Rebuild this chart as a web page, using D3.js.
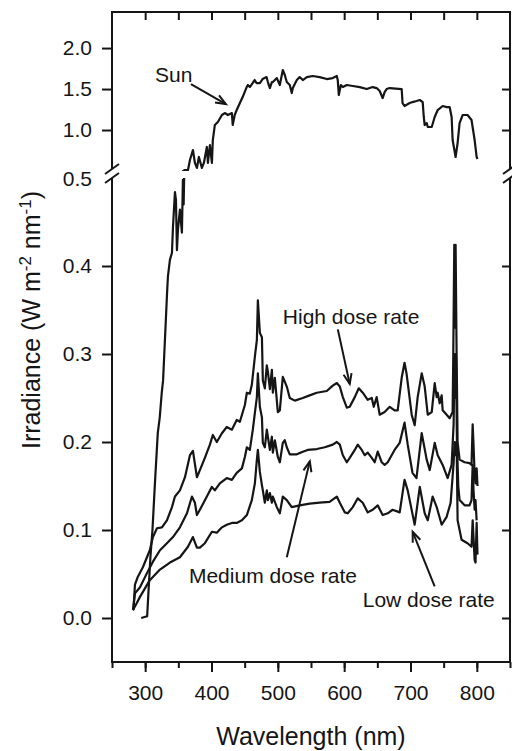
<!DOCTYPE html>
<html><head><meta charset="utf-8">
<script src="https://cdn.jsdelivr.net/npm/d3@7"></script>
<style>
body{margin:0;background:#fff}
text{font-family:"Liberation Sans",Arial,Helvetica,sans-serif;fill:#151515}
</style>
</head><body>
<svg id="chart" width="512" height="751"></svg>
<script>
// ---------------- data ----------------
const wavelengthMinorTicks = [250,300,350,400,450,500,550,600,650,700,750,800,850];
const wavelengthTopTicks = [300,350,400,450,500,550,600,650,700,750,800];
const wavelengthLabels = [300,400,500,600,700,800];
const lowerTicks = [0.0,0.1,0.2,0.3,0.4];
const breakValue = 0.5;
const upperTicks = [1.0,1.5,2.0];

// [wavelength nm, irradiance W m-2 nm-1]
const sun = [[294,0.0],[303,0.002],[305,0.03],[308,0.07],[311,0.1],[315,0.157],[319,0.21],[322,0.228],[325,0.256],[327,0.27],[333,0.369],[334.3,0.388],[337.3,0.407],[340.4,0.415],[341.9,0.444],[344.9,0.484],[346.4,0.475],[347.9,0.418],[349.4,0.441],[352.4,0.464],[355.4,0.438],[356.9,0.498],[358,0.47],[359,0.51],[364.5,0.51],[367.5,0.634],[372,0.756],[375,0.598],[378,0.537],[381,0.671],[385.5,0.537],[388.5,0.598],[393,0.793],[394.6,0.598],[397.6,0.817],[400.6,0.598],[402,0.878],[405,1.061],[409.6,1.098],[415.7,1.183],[420,1.207],[424.7,1.183],[430.7,1.207],[432,1.061],[435,1.183],[438,1.244],[442.8,1.329],[447,1.402],[453,1.524],[454.8,1.549],[457.8,1.524],[462,1.573],[465,1.61],[468,1.573],[473,1.573],[477,1.622],[483,1.646],[485,1.585],[488,1.512],[491,1.585],[492.5,1.585],[498.5,1.634],[503,1.549],[506,1.671],[507.5,1.732],[510.5,1.671],[513.5,1.585],[518,1.549],[521,1.451],[522.6,1.512],[528.6,1.61],[533,1.646],[537.6,1.61],[543.7,1.646],[552.7,1.659],[563,1.646],[573.8,1.622],[582.8,1.634],[588.9,1.659],[590.3,1.61],[591.9,1.427],[595,1.549],[598,1.524],[604,1.549],[613,1.537],[623.5,1.524],[634,1.5],[643,1.524],[649,1.512],[653.6,1.476],[658,1.39],[661,1.463],[664,1.5],[668.7,1.512],[686.7,1.5],[688,1.329],[691,1.293],[698.8,1.329],[703,1.341],[709,1.354],[714,1.366],[718.4,1.341],[720,1.159],[721.4,1.061],[724.4,1.085],[726,1.037],[732,1.037],[736.5,1.159],[741,1.244],[748.5,1.293],[754.5,1.28],[759,1.28],[762,1.159],[763.5,0.878],[768,0.671],[771,0.841],[774,1.085],[778.6,1.183],[786,1.183],[792,1.122],[796.7,0.878],[799.7,0.671],[801,0.646]];

const highDose = [[281.6,0.009],[282.5,0.01],[284.6,0.038],[289,0.047],[296.7,0.058],[307,0.077],[311.7,0.092],[317.8,0.102],[325.3,0.103],[332.8,0.111],[340.4,0.126],[344.9,0.138],[352.4,0.145],[360,0.16],[367.5,0.185],[372,0.19],[378,0.16],[382.5,0.168],[390,0.182],[397.6,0.197],[402,0.208],[408,0.2],[415.7,0.21],[423,0.217],[430.7,0.214],[438,0.225],[442.8,0.223],[450.3,0.242],[453.3,0.256],[457.8,0.255],[460.8,0.265],[465.4,0.297],[468.4,0.316],[469.9,0.361],[472.9,0.324],[476,0.319],[477.4,0.27],[480.4,0.261],[483.4,0.287],[485,0.28],[488,0.26],[491,0.282],[492.5,0.256],[495.5,0.273],[500,0.234],[503,0.236],[507.5,0.274],[513.5,0.263],[518,0.25],[525.6,0.247],[537.6,0.25],[548,0.253],[558.7,0.256],[573.8,0.258],[582.8,0.264],[588.9,0.267],[593.4,0.263],[598,0.251],[604,0.239],[608.4,0.24],[616,0.251],[622,0.261],[628,0.256],[635.5,0.248],[641.6,0.25],[644.6,0.24],[649,0.251],[653.6,0.231],[661,0.234],[668.7,0.24],[676,0.236],[680.7,0.236],[686.7,0.273],[691,0.29],[694,0.278],[701.8,0.231],[706.3,0.219],[710.8,0.251],[716.9,0.278],[721.4,0.263],[726,0.231],[732,0.234],[736.5,0.267],[739.5,0.251],[741,0.256],[744,0.244],[747,0.253],[748.5,0.236],[754.5,0.231],[759,0.227],[763.5,0.234],[764.5,0.3],[766,0.424],[767,0.33],[768,0.424],[769.5,0.3],[771,0.2],[774,0.18],[781.6,0.177],[789,0.176],[792,0.174],[793.7,0.22],[795,0.197],[796.7,0.163],[798,0.153],[799.7,0.17],[801,0.15]];

const mediumDose = [[281.6,0.009],[284.6,0.028],[292.2,0.035],[302.7,0.051],[311.7,0.064],[322.3,0.077],[332.8,0.085],[341.9,0.092],[352.4,0.103],[363,0.119],[370.5,0.138],[375,0.131],[378,0.117],[382.5,0.123],[393,0.138],[400.6,0.149],[405,0.145],[412.6,0.153],[423,0.159],[430.7,0.157],[438,0.165],[445.8,0.17],[450.3,0.183],[453.3,0.194],[457.8,0.191],[462.3,0.214],[465.4,0.233],[468.4,0.251],[469.9,0.278],[472.9,0.24],[476,0.228],[477.4,0.199],[480.4,0.194],[483.4,0.214],[485,0.206],[488,0.191],[491,0.206],[492.5,0.188],[495.5,0.202],[500,0.183],[503,0.177],[507.5,0.199],[510.5,0.202],[513.5,0.194],[518,0.186],[528.6,0.186],[537.6,0.189],[545,0.191],[558.7,0.192],[570.8,0.194],[582.8,0.197],[588.9,0.2],[593.4,0.197],[598,0.185],[604,0.177],[608.4,0.182],[616,0.191],[620.5,0.197],[626.5,0.191],[631,0.185],[635.5,0.188],[641.6,0.182],[646,0.177],[650.6,0.189],[656.6,0.177],[661,0.174],[665.7,0.177],[676,0.191],[683.7,0.199],[691,0.222],[695.8,0.197],[703,0.165],[709,0.159],[716.9,0.21],[724.4,0.18],[729,0.168],[736.5,0.199],[741,0.185],[748.5,0.174],[756,0.159],[762,0.174],[765,0.22],[766.5,0.3],[767.5,0.25],[768.5,0.3],[770,0.2],[772,0.15],[774,0.134],[781.6,0.128],[789,0.128],[792,0.134],[793.7,0.174],[795,0.145],[796.7,0.123],[798,0.134],[799.7,0.111]];

const lowDose = [[281.6,0.009],[286,0.015],[292.2,0.024],[307,0.043],[322.3,0.055],[337.3,0.063],[352.4,0.069],[364.5,0.081],[372,0.092],[378,0.08],[382.5,0.08],[390,0.085],[400.6,0.098],[408,0.097],[415.7,0.103],[423,0.106],[430.7,0.108],[438,0.108],[445.8,0.111],[453.3,0.117],[460.8,0.134],[465.4,0.153],[468.4,0.18],[469.9,0.191],[472.9,0.166],[476,0.151],[477.4,0.145],[480.4,0.131],[483.4,0.145],[485,0.134],[488,0.142],[491,0.131],[492.5,0.138],[498.5,0.126],[503,0.119],[507.5,0.138],[513.5,0.134],[521,0.126],[533,0.128],[548,0.13],[563,0.131],[578,0.132],[588.9,0.138],[593.4,0.131],[601,0.12],[605.4,0.119],[613,0.126],[620.5,0.136],[628,0.131],[635.5,0.12],[643,0.123],[650.6,0.128],[658,0.117],[665.7,0.119],[673,0.123],[683.7,0.12],[691,0.157],[695.8,0.145],[706.3,0.106],[714,0.149],[721.4,0.119],[726,0.111],[733.4,0.138],[739.5,0.126],[747,0.106],[754.5,0.115],[760.5,0.131],[765,0.176],[766.5,0.2],[768,0.185],[769.5,0.2],[771,0.111],[777,0.089],[786,0.085],[792,0.081],[793.7,0.111],[796.7,0.066],[798,0.063],[799.7,0.108],[801,0.072]];

// annotations (data coordinates)
const annotations = [
  {text:"Sun", panel:"upper", tx:314.8, ty:1.585, from:[369,1.561], to:[421.7,1.317]},
  {text:"High dose rate", panel:"lower", tx:507.5, ty:0.334, from:[590.4,0.328], to:[608.4,0.266]},
  {text:"Medium dose rate", panel:"lower", tx:366, ty:0.040, from:[513.5,0.069], to:[548.2,0.178]},
  {text:"Low dose rate", panel:"lower", tx:628, ty:0.0125, from:[736.4,0.036], to:[703.3,0.098]}
];

// ---------------- layout ----------------
const L = 112, R = 510, T = 12, B = 662;
const svg = d3.select("#chart");
const x = d3.scaleLinear([250, 850], [L, R]);
const yLow = d3.scaleLinear([-0.05, 0.5], [B, 178]);
const yUp = d3.scaleLinear([0.5, 2.44], [171, T]);
const ink = "#151515";
const fmt = d3.format(".1f");

const defs = svg.append("defs");
defs.append("clipPath").attr("id","clipLow").append("rect")
  .attr("x", L).attr("y", yLow(0.5)).attr("width", R-L).attr("height", B - yLow(0.5));
defs.append("clipPath").attr("id","clipUp").append("rect")
  .attr("x", L).attr("y", T).attr("width", R-L).attr("height", yUp(0.5) - T);

function styleAxis(g){
  g.select(".domain").remove();
  g.selectAll("line").attr("stroke", ink).attr("stroke-width", 2);
  g.selectAll("text").attr("font-size", 21).attr("fill", ink)
    .attr("font-family", '"Liberation Sans",Arial,Helvetica,sans-serif');
}

// bottom axis: minor and major ticks
svg.append("g").attr("transform", `translate(0,${B})`)
  .call(d3.axisBottom(x).tickValues(wavelengthMinorTicks).tickSize(6).tickFormat(""))
  .call(styleAxis);
svg.append("g").attr("transform", `translate(0,${B})`)
  .call(d3.axisBottom(x).tickValues(wavelengthLabels).tickSize(10).tickPadding(13).tickFormat(d3.format("d")))
  .call(styleAxis);
// top axis (inward)
svg.append("g").attr("transform", `translate(0,${T})`)
  .call(d3.axisTop(x).tickValues(wavelengthTopTicks).tickSize(-8).tickFormat(""))
  .call(styleAxis);
// left axes
svg.append("g").attr("transform", `translate(${L},0)`)
  .call(d3.axisLeft(yLow).tickValues(lowerTicks).tickSize(10).tickPadding(10).tickFormat(fmt))
  .call(styleAxis);
svg.append("g").attr("transform", `translate(${L},0)`)
  .call(d3.axisLeft(yUp).tickValues(upperTicks).tickSize(10).tickPadding(10).tickFormat(fmt))
  .call(styleAxis);
// right axes (inward)
svg.append("g").attr("transform", `translate(${R},0)`)
  .call(d3.axisRight(yLow).tickValues(lowerTicks).tickSize(-8).tickFormat(""))
  .call(styleAxis);
svg.append("g").attr("transform", `translate(${R},0)`)
  .call(d3.axisRight(yUp).tickValues(upperTicks).tickSize(-8).tickFormat(""))
  .call(styleAxis);
// break label
svg.append("text").attr("x", L - 20).attr("y", yLow(breakValue) + 1).attr("dy", "0.32em")
  .attr("text-anchor", "end").attr("font-size", 21).text(fmt(breakValue));

// frame with axis breaks
const frame = svg.append("g").attr("stroke", ink).attr("stroke-width", 2).attr("fill", "none");
const brUp = yUp(0.5) - 2, brLow = yLow(0.5);
frame.append("line").attr("x1", L-1).attr("x2", R+1).attr("y1", T).attr("y2", T);
frame.append("line").attr("x1", L-1).attr("x2", R+1).attr("y1", B).attr("y2", B);
[L, R].forEach(xx => {
  frame.append("line").attr("x1", xx).attr("x2", xx).attr("y1", T).attr("y2", brUp);
  frame.append("line").attr("x1", xx).attr("x2", xx).attr("y1", brLow).attr("y2", B);
  [brUp, brLow].forEach(yy => {
    frame.append("line").attr("x1", xx-7).attr("y1", yy+5).attr("x2", xx+7).attr("y2", yy-5);
  });
});

// series
const lineLow = d3.line().x(d => x(d[0])).y(d => yLow(d[1]));
const lineUp = d3.line().x(d => x(d[0])).y(d => yUp(d[1]));
const plotLow = svg.append("g").attr("clip-path", "url(#clipLow)");
const plotUp = svg.append("g").attr("clip-path", "url(#clipUp)");
[sun, highDose, mediumDose, lowDose].forEach(series => {
  plotLow.append("path").datum(series).attr("d", lineLow)
    .attr("fill","none").attr("stroke", ink).attr("stroke-width", 2.2).attr("stroke-linejoin","round");
});
plotUp.append("path").datum(sun).attr("d", lineUp)
  .attr("fill","none").attr("stroke", ink).attr("stroke-width", 2.2).attr("stroke-linejoin","round");

// annotations
const ann = svg.append("g");
annotations.forEach(a => {
  const ys = a.panel === "upper" ? yUp : yLow;
  ann.append("text").attr("x", x(a.tx)).attr("y", ys(a.ty)).attr("font-size", 21).text(a.text);
  const x1 = x(a.from[0]), y1 = ys(a.from[1]), x2 = x(a.to[0]), y2 = ys(a.to[1]);
  ann.append("line").attr("x1", x1).attr("y1", y1).attr("x2", x2).attr("y2", y2)
    .attr("stroke", ink).attr("stroke-width", 2);
  const ang = Math.atan2(y2 - y1, x2 - x1), hl = 11, sp = 0.38;
  const p1 = [x2 - hl*Math.cos(ang - sp), y2 - hl*Math.sin(ang - sp)];
  const p2 = [x2 - hl*Math.cos(ang + sp), y2 - hl*Math.sin(ang + sp)];
  ann.append("path").attr("d", `M${p1}L${x2},${y2}L${p2}`)
    .attr("fill","none").attr("stroke", ink).attr("stroke-width", 2);
});

// axis titles
svg.append("text").attr("x", (L+R)/2).attr("y", 745).attr("text-anchor","middle")
  .attr("font-size", 25).text("Wavelength (nm)");
const yt = svg.append("text").attr("transform", `translate(40,${(T+B)/2 - 17}) rotate(-90)`)
  .attr("text-anchor","middle").attr("font-size", 25);
yt.append("tspan").text("Irradiance (W m");
yt.append("tspan").attr("dy", -9).attr("font-size", 17).text("-2");
yt.append("tspan").attr("dy", 9).text(" nm");
yt.append("tspan").attr("dy", -9).attr("font-size", 17).text("-1");
yt.append("tspan").attr("dy", 9).text(")");
</script>
</body></html>
